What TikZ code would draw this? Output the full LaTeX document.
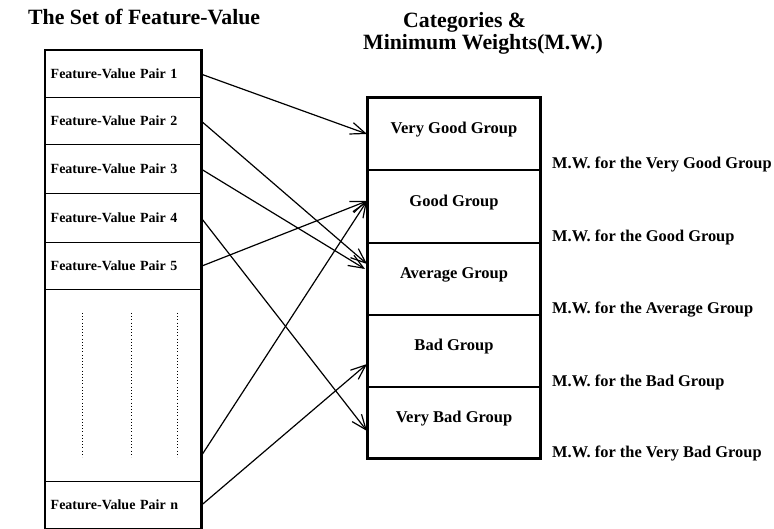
\documentclass[tikz,border=0pt]{standalone}
\usepackage{fontspec}
\setmainfont{Liberation Serif}
\usetikzlibrary{arrows.meta}
\begin{document}
\begin{tikzpicture}[x=1pt,y=-1pt,
  heading/.style={anchor=base west, inner sep=0pt, font=\bfseries\fontsize{21.8}{24}\selectfont},
  pairrow/.style={draw, line width=1.4pt, anchor=north west, minimum width=155pt,
    text width=145pt, align=left, inner xsep=5pt, inner ysep=0pt,
    font=\bfseries\fontsize{14}{16}\selectfont},
  grouprow/.style={draw, line width=2pt, anchor=north west, minimum width=172pt, inner sep=0pt},
  grouplabel/.style={inner sep=0pt, font=\bfseries\fontsize{16.5}{19}\selectfont},
  mwlabel/.style={anchor=base west, inner sep=0pt, font=\bfseries\fontsize{16.4}{19}\selectfont},
  frame/.style={line width=2.3pt},
  dotline/.style={line width=0.9pt, dash pattern=on 0.9pt off 2.3pt},
  conn/.style={line width=1.2pt, -{Straight Barb[length=15pt,width=12pt,line width=1.2pt]}}]
\useasboundingbox (0,0) rectangle (774,529);

% headings
\node[heading] (tleft) at (28,25) {The Set of Feature-Value};
\node[heading] (tright1) at (403,28) {Categories \&};
\node[heading] (tright2) at (363,50) {Minimum Weights(M.W.)};

% feature-value pairs
\node[pairrow, minimum height=47pt] (p1) at (45,50) {Feature-Value Pair 1};
\node[pairrow, minimum height=47pt] (p2) at (45,97) {Feature-Value Pair 2};
\node[pairrow, minimum height=49pt] (p3) at (45,144) {Feature-Value Pair 3};
\node[pairrow, minimum height=49pt] (p4) at (45,193) {Feature-Value Pair 4};
\node[pairrow, minimum height=47pt] (p5) at (45,242) {Feature-Value Pair 5};
\node[pairrow, minimum height=192pt] (pd) at (45,289) {};
\node[pairrow, minimum height=47pt] (pn) at (45,481) {Feature-Value Pair n};

% vertical ellipsis
\draw[dotline] (82,313) -- (82,457);
\draw[dotline] (131,313) -- (131,457);
\draw[dotline] (177,313) -- (177,457);

% categories
\node[grouprow, minimum height=72pt] (vg) at (367,97) {};
\node[grouprow, minimum height=73pt] (gd) at (367,169) {};
\node[grouprow, minimum height=72pt] (av) at (367,242) {};
\node[grouprow, minimum height=72pt] (bd) at (367,314) {};
\node[grouprow, minimum height=71pt] (vb) at (367,386) {};

\node[grouplabel] (lvg) at ([yshift=4pt]vg.center) {Very Good Group};
\node[grouplabel] (lgd) at ([yshift=4pt]gd.center) {Good Group};
\node[grouplabel] (lav) at ([yshift=4pt]av.center) {Average Group};
\node[grouplabel] (lbd) at ([yshift=4pt]bd.center) {Bad Group};
\node[grouplabel] (lvb) at ([yshift=4pt]vb.center) {Very Bad Group};

% minimum weights
\node[mwlabel] (mvg) at (552,169) {M.W. for the Very Good Group};
\node[mwlabel] (mgd) at (552,242) {M.W. for the Good Group};
\node[mwlabel] (mav) at (552,314) {M.W. for the Average Group};
\node[mwlabel] (mbd) at (552,386) {M.W. for the Bad Group};
\node[mwlabel] (mvb) at (552,457) {M.W. for the Very Bad Group};

% assignments
\draw[conn] (p1.east) -- (vg.west);
\draw[conn] (p2.east) -- ([yshift=15pt]av.west);
\draw[conn] (p3.east) -- ([yshift=10pt,xshift=-2pt]av.west);
\draw[conn] (p4.east) -- ([yshift=-8.5pt]vb.west);
\draw[conn] (p5.east) -- ([yshift=5.5pt]gd.west);
\draw[conn] ([yshift=-70pt]pd.east) -- ([yshift=5.5pt]gd.west);
\draw[conn] (pn.east) -- ([yshift=-13pt]bd.west);

% outer frames
\draw[frame] (p1.north west) rectangle (pn.south east);
\draw[frame] (vg.north west) rectangle (vb.south east);
\end{tikzpicture}
\end{document}
